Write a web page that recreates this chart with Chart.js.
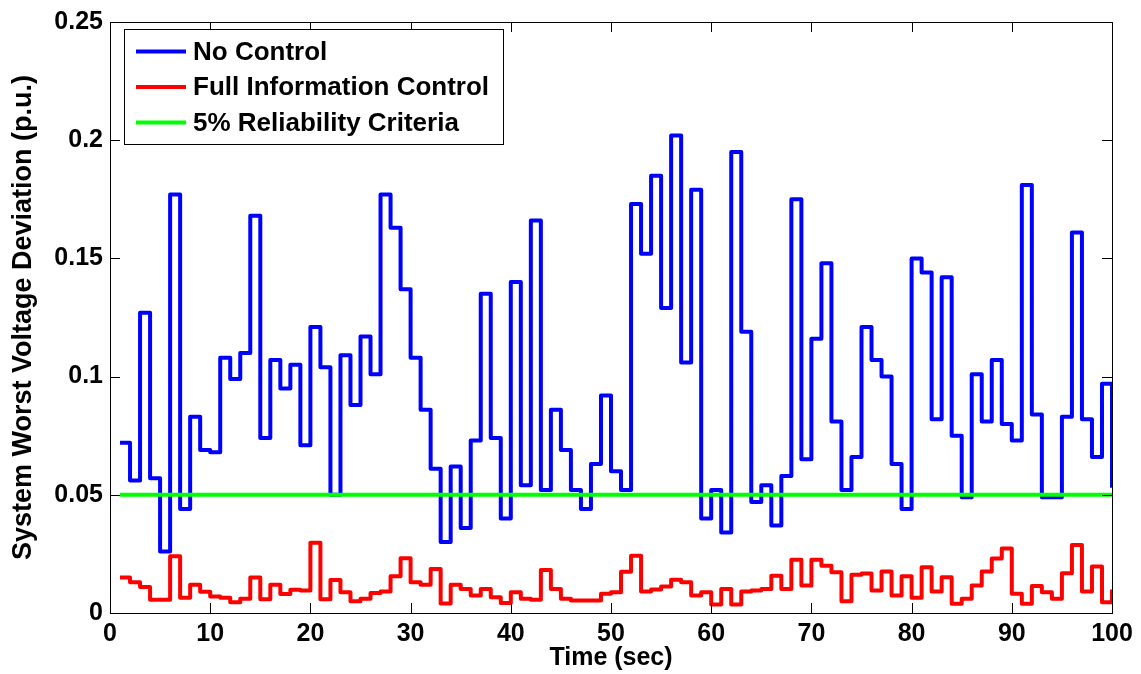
<!DOCTYPE html>
<html>
<head>
<meta charset="utf-8">
<script src="https://cdn.jsdelivr.net/npm/chart.js@4.4.1/dist/chart.umd.min.js"></script>
<style>
  html, body { margin: 0; padding: 0; background: #fff; }
  #wrap { width: 1141px; height: 674px; }
</style>
</head>
<body>
<div id="wrap"><canvas id="chart" width="1141" height="674"></canvas></div>
<script>
// time steps (sec), one value per second
const timeSec = Array.from({ length: 100 }, (_, i) => i + 1);

// worst voltage deviation without control (p.u.)
const noControl = [
  0.072, 0.056, 0.127, 0.057, 0.026, 0.177, 0.044, 0.083, 0.069, 0.068,
  0.108, 0.099, 0.110, 0.168, 0.074, 0.107, 0.095, 0.105, 0.071, 0.121,
  0.104, 0.050, 0.109, 0.088, 0.117, 0.101, 0.177, 0.163, 0.137, 0.108,
  0.086, 0.061, 0.030, 0.062, 0.036, 0.073, 0.135, 0.074, 0.040, 0.140,
  0.054, 0.166, 0.052, 0.086, 0.069, 0.052, 0.044, 0.063, 0.092, 0.060,
  0.052, 0.173, 0.152, 0.185, 0.129, 0.202, 0.106, 0.179, 0.040, 0.052,
  0.034, 0.195, 0.119, 0.047, 0.054, 0.037, 0.058, 0.175, 0.065, 0.116,
  0.148, 0.081, 0.052, 0.066, 0.121, 0.107, 0.100, 0.063, 0.044, 0.150,
  0.144, 0.082, 0.142, 0.075, 0.049, 0.101, 0.081, 0.107, 0.080, 0.073,
  0.181, 0.084, 0.049, 0.049, 0.083, 0.161, 0.082, 0.066, 0.097, 0.053
];

// worst voltage deviation with full information control (p.u.)
const fullInfo = [
  0.0150, 0.0130, 0.0110, 0.0056, 0.0056, 0.0240, 0.0065, 0.0120, 0.0090, 0.0070,
  0.0065, 0.0046, 0.0060, 0.0150, 0.0058, 0.0120, 0.0080, 0.0098, 0.0095, 0.0297,
  0.0058, 0.0140, 0.0088, 0.0050, 0.0060, 0.0085, 0.0091, 0.0155, 0.0232, 0.0130,
  0.0120, 0.0186, 0.0040, 0.0120, 0.0102, 0.0074, 0.0102, 0.0067, 0.0042, 0.0088,
  0.0060, 0.0056, 0.0182, 0.0102, 0.0060, 0.0053, 0.0053, 0.0053, 0.0081, 0.0088,
  0.0175, 0.0242, 0.0091, 0.0099, 0.0112, 0.0141, 0.0130, 0.0074, 0.0088, 0.0036,
  0.0102, 0.0036, 0.0091, 0.0095, 0.0102, 0.0158, 0.0102, 0.0225, 0.0116, 0.0225,
  0.0200, 0.0172, 0.0050, 0.0162, 0.0167, 0.0095, 0.0176, 0.0074, 0.0155, 0.0065,
  0.0193, 0.0091, 0.0151, 0.0039, 0.0060, 0.0116, 0.0176, 0.0231, 0.0273, 0.0081,
  0.0039, 0.0114, 0.0088, 0.0060, 0.0168, 0.0288, 0.0091, 0.0197, 0.0046, 0.0099
];

// 5% reliability criterion
const criteriaLevel = 0.05;

const xTicks = [0, 10, 20, 30, 40, 50, 60, 70, 80, 90, 100];
const yTicks = [0, 0.05, 0.1, 0.15, 0.2, 0.25];

const FONT = "'Liberation Sans', Arial, Helvetica, sans-serif";

function toPoints(xs, ys) {
  return xs.map((x, i) => ({ x: x, y: ys[i] }));
}

// MATLAB-like box with inward ticks on all four sides
const boxTicksPlugin = {
  id: "boxTicks",
  afterDraw(chart) {
    const { ctx, chartArea: a, scales } = chart;
    const len = 10;
    ctx.save();
    ctx.strokeStyle = "#000";
    ctx.lineWidth = 1;
    ctx.beginPath();
    xTicks.forEach((v) => {
      const px = Math.round(scales.x.getPixelForValue(v)) + 0.5;
      ctx.moveTo(px, a.bottom);
      ctx.lineTo(px, a.bottom - len);
      ctx.moveTo(px, a.top);
      ctx.lineTo(px, a.top + len);
    });
    yTicks.forEach((v) => {
      const py = Math.round(scales.y.getPixelForValue(v)) + 0.5;
      ctx.moveTo(a.left, py);
      ctx.lineTo(a.left + len, py);
      ctx.moveTo(a.right, py);
      ctx.lineTo(a.right - len, py);
    });
    ctx.stroke();
    ctx.strokeRect(
      Math.round(a.left) + 0.5,
      Math.round(a.top) + 0.5,
      Math.round(a.right - a.left),
      Math.round(a.bottom - a.top),
    );
    ctx.restore();
  },
};

// legend drawn inside the plot, top-left corner
const insideLegendPlugin = {
  id: "insideLegend",
  afterDraw(chart) {
    const { ctx, chartArea: a } = chart;
    const sets = chart.data.datasets;
    ctx.save();
    ctx.font = "bold 26px " + FONT;
    const textW = Math.max(...sets.map((d) => ctx.measureText(d.label).width));
    const x0 = a.left + 14;
    const y0 = a.top + 7;
    const rowH = 35.5;
    const w = 12 + 50 + 7 + textW + 14;
    const h = rowH * sets.length + 8;
    ctx.fillStyle = "#fff";
    ctx.fillRect(x0, y0, w, h);
    ctx.strokeStyle = "#000";
    ctx.lineWidth = 1;
    ctx.strokeRect(Math.round(x0) + 0.5, Math.round(y0) + 0.5, Math.round(w), Math.round(h));
    sets.forEach((d, i) => {
      const cy = y0 + 22.5 + i * rowH;
      ctx.strokeStyle = d.borderColor;
      ctx.lineWidth = 4;
      ctx.beginPath();
      ctx.moveTo(x0 + 12, cy);
      ctx.lineTo(x0 + 62, cy);
      ctx.stroke();
      ctx.fillStyle = "#000";
      ctx.textBaseline = "middle";
      ctx.textAlign = "left";
      ctx.fillText(d.label, x0 + 69, cy + 1);
    });
    ctx.restore();
  },
};

function initializeChart() {
  const ctx = document.getElementById("chart").getContext("2d");
  new Chart(ctx, {
    type: "line",
    data: {
      datasets: [
        {
          label: "No Control",
          data: toPoints(timeSec, noControl),
          borderColor: "#0000ff",
          borderWidth: 4,
          stepped: true,
          order: 3,
        },
        {
          label: "Full Information Control",
          data: toPoints(timeSec, fullInfo),
          borderColor: "#ff0000",
          borderWidth: 4,
          stepped: true,
          order: 2,
        },
        {
          label: "5% Reliability Criteria",
          data: toPoints(
            [timeSec[0], timeSec[timeSec.length - 1]],
            [criteriaLevel, criteriaLevel],
          ),
          borderColor: "#00ff00",
          borderWidth: 4,
          order: 1,
        },
      ],
    },
    options: {
      responsive: false,
      animation: false,
      devicePixelRatio: 1,
      layout: { padding: { top: 17, right: 29, left: 0, bottom: 0 } },
      elements: {
        point: { radius: 0, hoverRadius: 0 },
        line: { borderJoinStyle: "round", borderCapStyle: "butt", tension: 0 },
      },
      plugins: {
        legend: { display: false },
        tooltip: { enabled: false },
      },
      scales: {
        x: {
          type: "linear",
          min: 0,
          max: 100,
          afterFit: (s) => { s.height = 61; },
          afterBuildTicks: (s) => { s.ticks = xTicks.map((v) => ({ value: v })); },
          grid: { display: false, drawTicks: false },
          border: { display: false },
          ticks: {
            color: "#000",
            padding: 6,
            maxRotation: 0,
            font: { family: FONT, size: 25, weight: "bold" },
          },
          title: {
            display: true,
            text: "Time (sec)",
            color: "#000",
            padding: { top: 0, bottom: 1 },
            font: { family: FONT, size: 25, weight: "bold" },
          },
        },
        y: {
          type: "linear",
          min: 0,
          max: 0.25,
          afterFit: (s) => { s.width = 110; },
          afterBuildTicks: (s) => { s.ticks = yTicks.map((v) => ({ value: v })); },
          grid: { display: false, drawTicks: false },
          border: { display: false },
          ticks: {
            color: "#000",
            padding: 7,
            font: { family: FONT, size: 25, weight: "bold" },
            callback: (v) => String(+v.toFixed(2)),
          },
          title: {
            display: true,
            text: "System Worst Voltage Deviation (p.u.)",
            color: "#000",
            padding: { top: 7, bottom: 0 },
            font: { family: FONT, size: 27, weight: "bold" },
          },
        },
      },
    },
    plugins: [boxTicksPlugin, insideLegendPlugin],
  });
}

document.addEventListener("DOMContentLoaded", initializeChart);
</script>
</body>
</html>
